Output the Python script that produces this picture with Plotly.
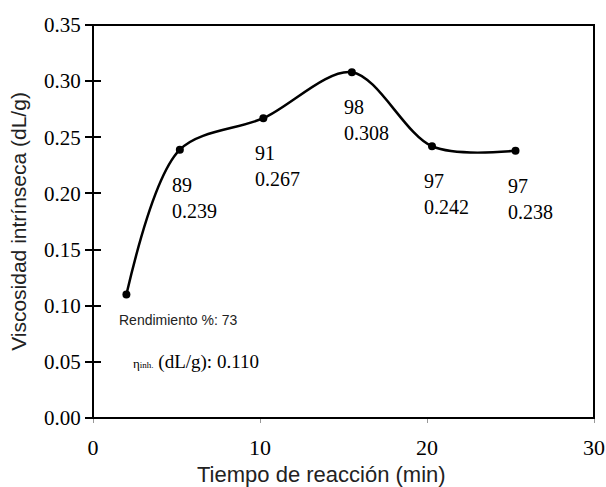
import plotly.graph_objects as go

tiempo = [2.0, 5.2, 10.2, 15.5, 20.3, 25.3]
viscosidad = [0.110, 0.239, 0.267, 0.308, 0.242, 0.238]
rendimiento = [73, 89, 91, 98, 97, 97]
y_ticks = [0.00, 0.05, 0.10, 0.15, 0.20, 0.25, 0.30, 0.35]
y_ticktext = ["0.00", "0.05", "0.10", "0.15", "0.20", "0.25", "0.30", "0.35"]
x_ticks = [0, 10, 20, 30]

SERIF = "Liberation Serif, Times New Roman, serif"
SANS = "Liberation Sans, Arial, sans-serif"

fig = go.Figure()
fig.add_trace(go.Scatter(
    x=tiempo, y=viscosidad, mode="lines+markers",
    line=dict(color="black", width=2.5, shape="spline", smoothing=0.9),
    marker=dict(color="black", size=8),
    showlegend=False, hoverinfo="skip", cliponaxis=False,
))

annotations = []
for t, v, r in list(zip(tiempo, viscosidad, rendimiento))[1:]:
    annotations.append(dict(
        x=t, y=v, xref="x", yref="y", text=f"{r}<br>{v:.3f}",
        showarrow=False, xanchor="left", yanchor="top", align="left",
        xshift=-10, yshift=-22,
        font=dict(family=SERIF, size=20, color="black"),
    ))
annotations.append(dict(
    x=1.45, y=0.087, xref="x", yref="y", text=f"Rendimiento %: {rendimiento[0]}",
    showarrow=False, xanchor="left", yanchor="middle",
    font=dict(family=SANS, size=14, color="#222"),
))
annotations.append(dict(
    x=2.3, y=0.050, xref="x", yref="y",
    text=f"<span style='font-size:13px'>η</span><span style='font-size:9px'>inh.</span> (dL/g): {viscosidad[0]:.3f}",
    showarrow=False, xanchor="left", yanchor="middle",
    font=dict(family=SERIF, size=19, color="black"),
))
annotations.append(dict(
    x=0.457, y=-0.143, xref="paper", yref="paper", text="Tiempo de reacción (min)",
    showarrow=False, xanchor="center", yanchor="middle",
    font=dict(family=SANS, size=22, color="#222"),
))

fig.update_layout(
    width=606, height=487,
    margin=dict(l=93, r=12, t=25, b=69),
    paper_bgcolor="white", plot_bgcolor="white",
    annotations=annotations,
    shapes=[dict(type="rect", xref="paper", yref="paper", x0=0, x1=1, y0=0, y1=1,
                 line=dict(color="black", width=2), layer="above")],
    xaxis=dict(
        range=[0, 30], tickvals=x_ticks, ticktext=[str(v) for v in x_ticks],
        showline=False, domain=[0, 1],
        ticks="outside", ticklen=4, tickcolor="#999", tickwidth=1,
        ticklabelstandoff=6,
        showgrid=False, zeroline=False, automargin=False,
        tickfont=dict(family=SERIF, size=22, color="black"),
    ),
    yaxis=dict(
        range=[0, 0.35], tickvals=y_ticks, ticktext=y_ticktext,
        anchor="free", position=0.016, showline=False,
        ticks="outside", ticklen=16, tickcolor="black", tickwidth=2,
        showgrid=False, zeroline=False, automargin=False,
        tickfont=dict(family=SERIF, size=21, color="black"),
        title=dict(text="Viscosidad intrínseca (dL/g)", standoff=10,
                   font=dict(family=SANS, size=21, color="#222")),
    ),
)

fig.write_html("out.html")
